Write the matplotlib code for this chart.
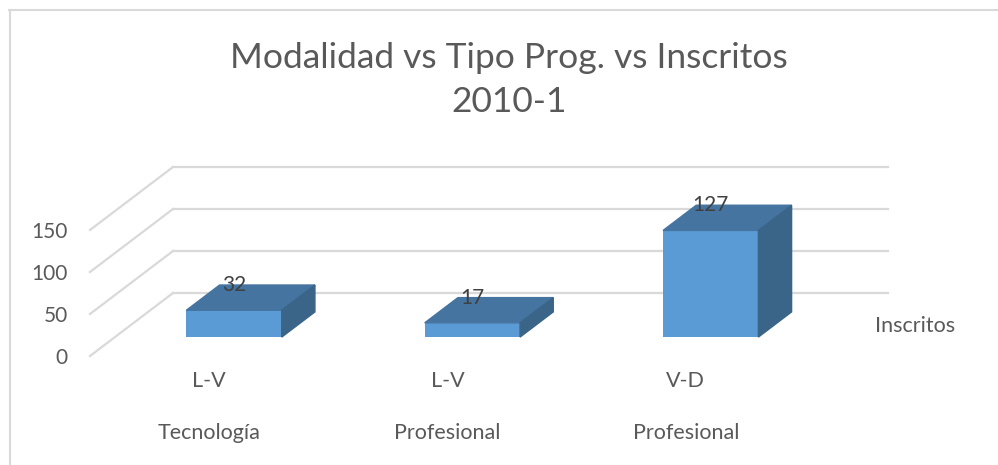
import matplotlib
matplotlib.use('Agg')

import matplotlib.pyplot as plt
from matplotlib.patches import Polygon
from matplotlib.lines import Line2D

# data
modalidad = ['L-V', 'L-V', 'V-D']
tipo_prog = ['Tecnología', 'Profesional', 'Profesional']
inscritos = [32, 17, 127]
y_ticks = [0, 50, 100, 150]
serie = 'Inscritos'

plt.rcParams['font.family'] = ['Lato', 'DejaVu Sans']

W, H = 998, 465
fig = plt.figure(figsize=(W / 100, H / 100), dpi=100)
ax = fig.add_axes([90 / W, 109 / H, 715 / W, 126 / H])
ax.set_xlim(-0.5, len(inscritos) - 0.5)
ax.set_ylim(0, 150)
for s in ax.spines.values():
    s.set_visible(False)

# depth of the 3D box, pixels -> data units
sx = 715 / len(inscritos)
sy = 126 / 150
DX, DY = 83 / sx, 63 / sy
f0, f1 = 0.3, 0.7          # front / back of the bars inside the depth
bw = 0.4
grid_c = '#d9d9d9'

# side wall (diagonals) and back wall gridlines
x0, x1 = ax.get_xlim()
for v in y_ticks:
    ax.plot([x0, x0 + DX], [v, v + DY], color=grid_c, lw=1.6, clip_on=False, zorder=1)
    ax.plot([x0 + DX, x1 + DX], [v + DY, v + DY], color=grid_c, lw=1.6, clip_on=False, zorder=1)

front_c, top_c, side_c = '#5b9bd5', '#44749f', '#3a6588'
for i, h in enumerate(inscritos):
    xl = i - bw / 2 + f0 * DX
    xr = i + bw / 2 + f0 * DX
    yb = f0 * DY
    ddx, ddy = (f1 - f0) * DX, (f1 - f0) * DY
    ax.bar(i + f0 * DX, h, width=bw, bottom=yb, color=front_c, zorder=3, clip_on=False)
    top = Polygon([(xl, yb + h), (xr, yb + h), (xr + ddx, yb + h + ddy), (xl + ddx, yb + h + ddy)],
                  closed=True, color=top_c, zorder=3, clip_on=False)
    side = Polygon([(xr, yb), (xr + ddx, yb + ddy), (xr + ddx, yb + h + ddy), (xr, yb + h)],
                   closed=True, color=side_c, zorder=3, clip_on=False)
    ax.add_patch(top)
    ax.add_patch(side)
    ax.text(i + f0 * DX, h + f1 * DY, str(h), ha='center', va='center',
            fontsize=15, color='#404040', zorder=4)

ax.set_xticks([])
ax.set_yticks(y_ticks)
ax.set_yticklabels([str(v) for v in y_ticks], fontsize=15, color='#595959')
ax.tick_params(axis='y', length=0, pad=16)

# two-level category labels
for i in range(len(inscritos)):
    ax.annotate(modalidad[i], xy=(i, 0), xycoords=('data', 'axes fraction'),
                xytext=(0, -25), textcoords='offset pixels',
                ha='center', va='center', fontsize=15.5, color='#595959')
    ax.annotate(tipo_prog[i], xy=(i, 0), xycoords=('data', 'axes fraction'),
                xytext=(0, -77), textcoords='offset pixels',
                ha='center', va='center', fontsize=15.5, color='#595959')

fig.text(875 / W, 1 - 326 / H, serie, ha='left', va='center', fontsize=15.5, color='#595959')

fig.text(509 / W, 1 - 58 / H, 'Modalidad vs Tipo Prog. vs Inscritos', ha='center', va='center',
         fontsize=25.5, color='#595959')
fig.text(509 / W, 1 - 102 / H, '2010-1', ha='center', va='center', fontsize=25.5, color='#595959')

# chart border (top and left only visible)
fig.add_artist(Line2D([9 / W, 1], [1 - 10 / H, 1 - 10 / H], color=grid_c, lw=1.5))
fig.add_artist(Line2D([10 / W, 10 / W], [0, 1 - 10 / H], color=grid_c, lw=1.5))

plt.savefig('out.png', dpi=100)
